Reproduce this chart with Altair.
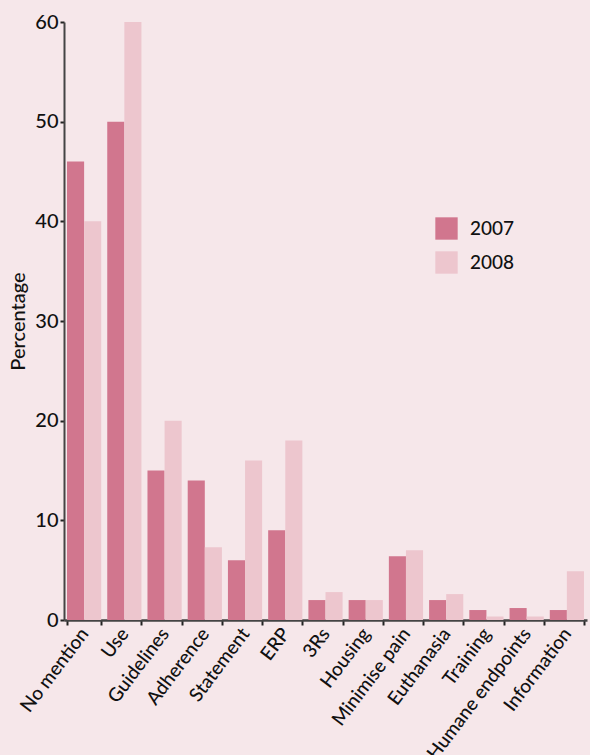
import altair as alt
import pandas as pd

categories = ["No mention", "Use", "Guidelines", "Adherence", "Statement", "ERP", "3Rs",
              "Housing", "Minimise pain", "Euthanasia", "Training", "Humane endpoints", "Information"]
years = ["2007", "2008"]
v2007 = [46, 50, 15, 14, 6, 9, 2, 2, 6.4, 2, 1, 1.2, 1]
v2008 = [40, 60, 20, 7.3, 16, 18, 2.8, 2, 7.0, 2.6, 0.35, 0.35, 4.9]

rows = []
for c, a, b in zip(categories, v2007, v2008):
    rows.append({"cat": c, "year": "2007", "val": a})
    rows.append({"cat": c, "year": "2008", "val": b})
df = pd.DataFrame(rows)

FONT = "Lato"
BG = "#f6e7ea"

chart = alt.Chart(df).mark_bar().encode(
    x=alt.X("cat:N", sort=categories, title=None,
            scale=alt.Scale(paddingInner=0.15, paddingOuter=0.075),
            axis=alt.Axis(labelAngle=-53, labelFontSize=19, labelFont=FONT, labelColor="#111",
                          labelFontWeight=500,
                          labelPadding=5, tickBand="extent", tickSize=5, tickWidth=2,
                          tickColor="#222", domainColor="#444", domainWidth=2.5,
                          labelAlign="right", labelBaseline="middle")),
    xOffset=alt.XOffset("year:N", scale=alt.Scale(paddingInner=0, paddingOuter=0)),
    y=alt.Y("val:Q", title="Percentage",
            scale=alt.Scale(domain=[0, 60], nice=False),
            axis=alt.Axis(values=[0, 10, 20, 30, 40, 50, 60], grid=False,
                          labelFontSize=20, labelFont=FONT, labelColor="#111",
                          labelFontWeight=500,
                          labelPadding=2, tickSize=4, tickWidth=2, tickColor="#222",
                          domainColor="#444", domainWidth=2,
                          titleFont=FONT, titleFontSize=20, titleFontWeight=500,
                          titleColor="#111", titlePadding=6)),
    color=alt.Color("year:N", scale=alt.Scale(domain=years, range=["#d1768e", "#edc6ce"]),
                    legend=alt.Legend(title=None, orient="none", legendX=371, legendY=195,
                                      symbolType="square", symbolSize=500,
                                      symbolStrokeWidth=0, labelFontSize=19, labelFont=FONT,
                                      labelFontWeight=500,
                                      labelColor="#111", rowPadding=11, labelOffset=12)),
).properties(
    width=523, height=598, background=BG,
    autosize=alt.AutoSizeParams(type="none"),
    padding={"left": 64, "top": 22, "right": 3, "bottom": 135},
).configure_view(stroke=None, fill=BG)

chart.save("out.html", embed_options={"renderer": "svg", "actions": False})
